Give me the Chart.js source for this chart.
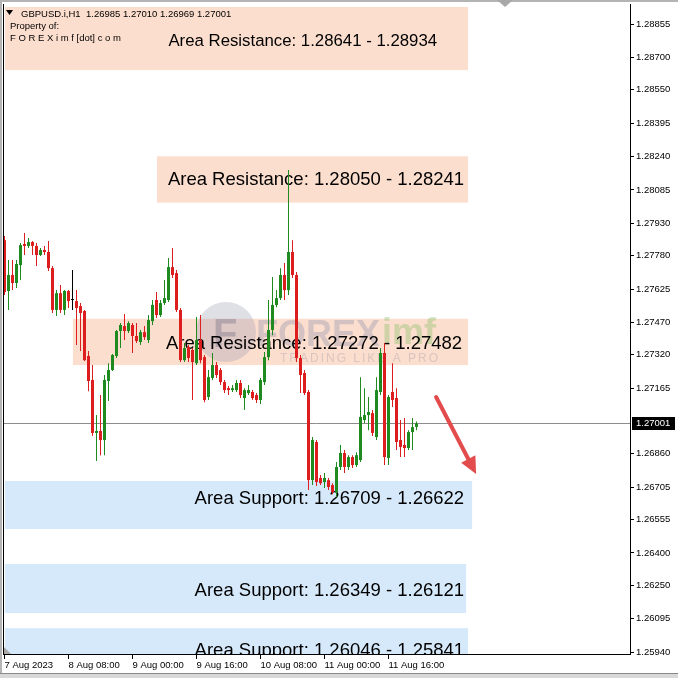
<!DOCTYPE html>
<html><head><meta charset="utf-8">
<script src="https://cdn.jsdelivr.net/npm/chart.js@4.4.0/dist/chart.umd.min.js"></script>
<style>html,body{margin:0;padding:0;background:#fff}#wrap{width:678px;height:678px}</style>
</head><body><div id="wrap"><canvas id="c" width="678" height="678"></canvas></div>
<script>
// ---- DATA (GBPUSD.i H1, 7 Aug 2023 16:00 -> 11 Aug 2023 23:00) ----
const symbolTitle = 'GBPUSD.i,H1';
const candleOpen = [1.27852,1.27616,1.27690,1.27653,1.27736,1.27834,1.27825,1.27843,1.27825,1.27783,
1.27806,1.27797,1.27722,1.27528,1.27606,1.27528,1.27616,1.27574,1.27569,1.27546,
1.27523,1.27314,1.27203,1.26957,1.26966,1.26924,1.27198,1.27249,1.27314,1.27430,
1.27453,1.27430,1.27458,1.27407,1.27379,1.27425,1.27388,1.27476,1.27574,1.27504,
1.27560,1.27574,1.27727,1.27699,1.27528,1.27295,1.27356,1.27342,1.27281,1.27388,
1.27309,1.27124,1.27212,1.27272,1.27249,1.27193,1.27165,1.27156,1.27156,1.27189,
1.27119,1.27142,1.27147,1.27133,1.27110,1.27193,1.27309,1.27435,1.27551,1.27583,
1.27690,1.27620,1.27797,1.27690,1.27305,1.27235,1.27147,1.26738,1.26915,1.26748,
1.26729,1.26738,1.26715,1.26683,1.26799,1.26864,1.26799,1.26845,1.26808,1.26831,
1.27017,1.27040,1.27049,1.26938,1.27147,1.27328,1.26841,1.27147,1.27119,1.26924,
1.26901,1.26887,1.26961,1.26985];
const candleHigh = [1.27871,1.27760,1.27760,1.27760,1.27839,1.27885,1.27862,1.27848,1.27839,1.27815,
1.27825,1.27848,1.27732,1.27620,1.27644,1.27620,1.27620,1.27713,1.27620,1.27560,
1.27528,1.27337,1.27272,1.27040,1.27133,1.27226,1.27281,1.27323,1.27435,1.27467,
1.27509,1.27476,1.27467,1.27467,1.27435,1.27453,1.27504,1.27574,1.27611,1.27574,
1.27667,1.27769,1.27815,1.27713,1.27537,1.27374,1.27365,1.27351,1.27495,1.27504,
1.27319,1.27249,1.27328,1.27286,1.27258,1.27203,1.27175,1.27179,1.27203,1.27203,
1.27165,1.27179,1.27156,1.27142,1.27212,1.27333,1.27574,1.27681,1.27620,1.27722,
1.27746,1.28177,1.27852,1.27704,1.27319,1.27249,1.27156,1.26938,1.26924,1.26762,
1.26771,1.26748,1.26724,1.26822,1.26901,1.26878,1.26854,1.26854,1.26868,1.27216,
1.27165,1.27124,1.27063,1.27216,1.27351,1.27374,1.27133,1.27281,1.27165,1.27017,
1.27026,1.26970,1.27026,1.27010];
const candleLow = [1.27597,1.27528,1.27620,1.27630,1.27667,1.27783,1.27815,1.27783,1.27732,1.27778,
1.27783,1.27709,1.27514,1.27500,1.27514,1.27504,1.27537,1.27528,1.27365,1.27337,
1.27291,1.27151,1.26943,1.26827,1.26854,1.26854,1.27105,1.27244,1.27305,1.27351,
1.27388,1.27421,1.27328,1.27374,1.27365,1.27388,1.27374,1.27458,1.27490,1.27495,
1.27551,1.27565,1.27676,1.27518,1.27286,1.27286,1.27286,1.27110,1.27272,1.27281,
1.27100,1.27110,1.27203,1.27212,1.27179,1.27142,1.27133,1.27147,1.27147,1.27119,
1.27063,1.27133,1.27110,1.27096,1.27091,1.27179,1.27295,1.27411,1.27541,1.27574,
1.27574,1.27597,1.27676,1.27286,1.27142,1.27133,1.26692,1.26715,1.26711,1.26715,
1.26701,1.26692,1.26673,1.26660,1.26785,1.26771,1.26785,1.26794,1.26799,1.26822,
1.27003,1.26970,1.26943,1.26924,1.27133,1.26808,1.26808,1.27077,1.26878,1.26845,
1.26845,1.26878,1.26878,1.26969];
const candleClose = [1.27611,1.27690,1.27653,1.27741,1.27829,1.27825,1.27843,1.27825,1.27783,1.27806,
1.27797,1.27722,1.27528,1.27606,1.27528,1.27616,1.27569,1.27574,1.27537,1.27514,
1.27295,1.27198,1.26957,1.26966,1.26924,1.27203,1.27249,1.27319,1.27430,1.27458,
1.27430,1.27467,1.27407,1.27384,1.27425,1.27402,1.27481,1.27551,1.27504,1.27560,
1.27583,1.27727,1.27690,1.27528,1.27295,1.27351,1.27305,1.27286,1.27388,1.27295,
1.27110,1.27216,1.27272,1.27226,1.27193,1.27156,1.27156,1.27165,1.27189,1.27133,
1.27156,1.27156,1.27119,1.27110,1.27203,1.27309,1.27435,1.27551,1.27583,1.27690,
1.27620,1.27797,1.27690,1.27305,1.27226,1.27142,1.26738,1.26924,1.26729,1.26724,
1.26748,1.26706,1.26683,1.26799,1.26864,1.26799,1.26845,1.26808,1.26854,1.27031,
1.27040,1.27054,1.26957,1.27156,1.27328,1.26845,1.27124,1.27110,1.26915,1.26892,
1.26887,1.26961,1.26984,1.27001];

const timeTickIndex = [0, 16, 32, 48, 64, 80, 96];
const timeTickLabels = ['7 Aug 2023','8 Aug 08:00','9 Aug 00:00','9 Aug 16:00','10 Aug 08:00','11 Aug 00:00','11 Aug 16:00'];
const priceTicks = [1.28855,1.28700,1.28550,1.28395,1.28240,1.28085,1.27930,1.27780,1.27625,1.27470,1.27320,1.27165,1.26860,1.26705,1.26555,1.26400,1.26250,1.26095,1.25940];
const currentPrice = 1.27001;

const zoneLow   = [1.28641, 1.28026, 1.27272, 1.26511, 1.26121, 1.25841];
const zoneHigh  = [1.28934, 1.28241, 1.27487, 1.26734, 1.26349, 1.26051];
const zoneFrom  = [0.1, 38.1, 17.1, 0.1, 0.1, 0.1];
const zoneTo    = [115.9, 115.9, 115.9, 116.9, 115.4, 115.9];
const zoneKind  = ['res','res','res','sup','sup','sup'];
const zoneText  = ['Area Resistance: 1.28641 - 1.28934','Area Resistance: 1.28050 - 1.28241','Area Resistance: 1.27272 - 1.27482',
                   'Area Support: 1.26709 - 1.26622','Area Support: 1.26349 - 1.26121','Area Support: 1.26046 - 1.25841'];
const arrowFrom = [107.9, 1.27124];
const arrowTo   = [117.9, 1.26766];

// ---- STYLE ----
const UP = '#1F8A1F', DOWN = '#DC1E1E', DOJI = '#000000';
const RES_FILL = '#FCDECE', SUP_FILL = '#D6E9FA';
const FONT = '"Liberation Sans", Arial, sans-serif';
const labelLayout = [ {inset:31, base:39, size:16.8}, {inset:4, base:28.5, size:18.5}, {inset:6, base:30, size:18.5},
                      {inset:8, base:23, size:18.5}, {inset:2, base:32, size:18.5}, {inset:4, base:28, size:18.5} ];

const idx = candleOpen.map((_, i) => i);
const colorOf = i => candleClose[i] > candleOpen[i] ? UP : (candleClose[i] < candleOpen[i] ? DOWN : DOJI);
const colors = idx.map(colorOf);

const decor = {
  id: 'decor',
  beforeDraw(chart) {
    const ctx = chart.ctx;
    ctx.save(); ctx.fillStyle = '#fff'; ctx.fillRect(0, 0, chart.width, chart.height); ctx.restore();
  },
  beforeDatasetsDraw(chart) {
    const {ctx, chartArea: a, scales: {x, y}} = chart;
    ctx.save();
    ctx.beginPath(); ctx.rect(a.left, a.top, a.right - a.left, a.bottom - a.top); ctx.clip();
    zoneLow.forEach((lo, k) => {
      const x0 = x.getPixelForValue(zoneFrom[k]), x1 = x.getPixelForValue(zoneTo[k]);
      const y0 = y.getPixelForValue(zoneHigh[k]), y1 = y.getPixelForValue(lo);
      ctx.fillStyle = zoneKind[k] === 'res' ? RES_FILL : SUP_FILL;
      ctx.fillRect(x0, y0, x1 - x0, y1 - y0);
    });
    // watermark
    ctx.save();
    ctx.globalAlpha = 0.32;
    ctx.fillStyle = '#9a9ab0';
    ctx.beginPath(); ctx.arc(226, 332, 30, 0, Math.PI * 2); ctx.fill();
    ctx.fillStyle = '#5e5e78';
    ctx.font = 'bold 40px ' + FONT; ctx.textBaseline = 'alphabetic';
    ctx.fillText('F', 213, 347);
    ctx.fillStyle = '#8088a8';
    ctx.font = 'bold 36px ' + FONT;
    ctx.fillText('FOREX', 256, 346);
    ctx.fillStyle = '#70b850';
    ctx.fillText('imf', 382, 344);
    ctx.fillStyle = '#9090a0';
    ctx.font = '12px ' + FONT;
    try { ctx.letterSpacing = '2px'; } catch (e) {}
    ctx.fillText('TRADING LIKE A PRO', 280, 362);
    ctx.restore();
    const py = Math.round(y.getPixelForValue(currentPrice)) + 0.5;
    ctx.strokeStyle = '#8c8c8c'; ctx.lineWidth = 1;
    ctx.beginPath(); ctx.moveTo(a.left, py); ctx.lineTo(a.right, py); ctx.stroke();
    ctx.fillStyle = '#000'; ctx.textAlign = 'right'; ctx.textBaseline = 'alphabetic';
    zoneText.forEach((t, k) => {
      const L = labelLayout[k];
      ctx.font = L.size + 'px ' + FONT;
      const xr = x.getPixelForValue(zoneTo[k]) - L.inset;
      const yb = y.getPixelForValue(zoneHigh[k]) + L.base;
      ctx.fillText(t, xr, yb);
    });
    ctx.restore();
  },
  afterDatasetsDraw(chart) {
    const {ctx, scales: {x, y}} = chart;
    const x0 = x.getPixelForValue(arrowFrom[0]), y0 = y.getPixelForValue(arrowFrom[1]);
    const x1 = x.getPixelForValue(arrowTo[0]), y1 = y.getPixelForValue(arrowTo[1]);
    const ang = Math.atan2(y1 - y0, x1 - x0), hl = 17, hw = 8;
    const bx = x1 - hl * Math.cos(ang), by = y1 - hl * Math.sin(ang);
    ctx.save();
    ctx.strokeStyle = '#E24C4C'; ctx.fillStyle = '#E24C4C'; ctx.lineWidth = 4; ctx.lineCap = 'round';
    ctx.beginPath(); ctx.moveTo(x0, y0); ctx.lineTo(bx, by); ctx.stroke();
    ctx.beginPath(); ctx.moveTo(x1, y1);
    ctx.lineTo(bx + hw * Math.sin(ang), by - hw * Math.cos(ang));
    ctx.lineTo(bx - hw * Math.sin(ang), by + hw * Math.cos(ang));
    ctx.closePath(); ctx.fill();
    ctx.restore();
  },
  afterDraw(chart) {
    const {ctx, chartArea: a, scales: {y}} = chart;
    ctx.save();
    ctx.fillStyle = '#b4b4b4';
    ctx.fillRect(0, 0, chart.width, 2);
    ctx.fillRect(0, 0, 2, chart.height);
    ctx.fillStyle = '#d8d8d8'; ctx.fillRect(0, 674, chart.width, 4);
    ctx.fillStyle = '#8a8a8a'; ctx.fillRect(0, 673, chart.width, 1);
    ctx.fillStyle = '#000'; ctx.fillRect(a.left, a.top, 1, a.bottom - a.top);
    ctx.fillStyle = '#a8a8a8';
    ctx.beginPath(); ctx.moveTo(497, 0); ctx.lineTo(513, 0); ctx.lineTo(505, 7); ctx.closePath(); ctx.fill();
    ctx.beginPath(); ctx.moveTo(4, 647); ctx.lineTo(4, 654); ctx.lineTo(11, 654); ctx.closePath(); ctx.fill();
    ctx.fillStyle = '#000';
    ctx.beginPath(); ctx.moveTo(6, 10); ctx.lineTo(13, 10); ctx.lineTo(9.5, 15); ctx.closePath(); ctx.fill();
    ctx.font = '9.5px ' + FONT; ctx.textBaseline = 'alphabetic'; ctx.textAlign = 'left';
    const n = candleOpen.length - 1;
    ctx.fillText(symbolTitle, 21, 16.5);
    ctx.fillText([candleOpen[n], candleHigh[n], candleLow[n], candleClose[n]].map(v => v.toFixed(5)).join(' '), 86, 16.5);
    ctx.fillText('Property of:', 10, 28.5);
    ctx.fillText('F O R E X i m f [dot] c o m', 10, 40.5);
    const py = Math.round(y.getPixelForValue(currentPrice));
    ctx.fillStyle = '#000'; ctx.fillRect(a.right + 2, py - 6, 43, 13);
    ctx.fillStyle = '#fff'; ctx.textBaseline = 'middle';
    ctx.fillText(currentPrice.toFixed(5), a.right + 6, py + 0.5);
    ctx.restore();
  }
};

new Chart(document.getElementById('c'), {
  type: 'bar',
  data: {
    datasets: [
      { label: 'body', data: idx.map(i => ({x: i, y: [candleOpen[i], candleClose[i]]})), backgroundColor: colors,
        barThickness: 3, minBarLength: 1, grouped: false, inflateAmount: 0, borderWidth: 0, order: 1 },
      { label: 'wick', data: idx.map(i => ({x: i, y: [candleLow[i], candleHigh[i]]})), backgroundColor: colors,
        barThickness: 1, grouped: false, inflateAmount: 0, borderWidth: 0, order: 2 }
    ]
  },
  options: {
    responsive: false, animation: false, devicePixelRatio: 1,
    layout: { padding: { left: 3, top: 4, right: 0, bottom: 0 } },
    plugins: { legend: { display: false }, tooltip: { enabled: false } },
    scales: {
      x: {
        type: 'linear', min: -0.375, max: 156.375, position: 'bottom', offset: false,
        afterBuildTicks: s => { s.ticks = timeTickIndex.map(v => ({value: v})); },
        afterFit: s => { s.height = 24; s.paddingLeft = 0; s.paddingRight = 0; },
        grid: { offset: false, drawOnChartArea: false, drawTicks: true, tickLength: 5, color: '#000', tickColor: '#000' },
        border: { display: true, color: '#000', width: 1 },
        ticks: { callback: v => timeTickLabels[timeTickIndex.indexOf(v)], align: 'start', padding: 1,
                 autoSkip: false, maxRotation: 0, minRotation: 0, color: '#000', font: { family: FONT, size: 9.5 } }
      },
      y: {
        type: 'linear', position: 'right', min: 1.25931, max: 1.28948,
        afterBuildTicks: s => { s.ticks = priceTicks.map(v => ({value: v})); },
        afterFit: s => { s.width = 48; s.paddingTop = 0; s.paddingBottom = 0; },
        grid: { drawOnChartArea: false, drawTicks: true, tickLength: 4, color: '#000', tickColor: '#000' },
        border: { display: true, color: '#000', width: 1 },
        ticks: { callback: v => Number(v).toFixed(5), padding: 2, autoSkip: false, color: '#000',
                 font: { family: FONT, size: 9.5 } }
      }
    }
  },
  plugins: [decor]
});
</script></body></html>
